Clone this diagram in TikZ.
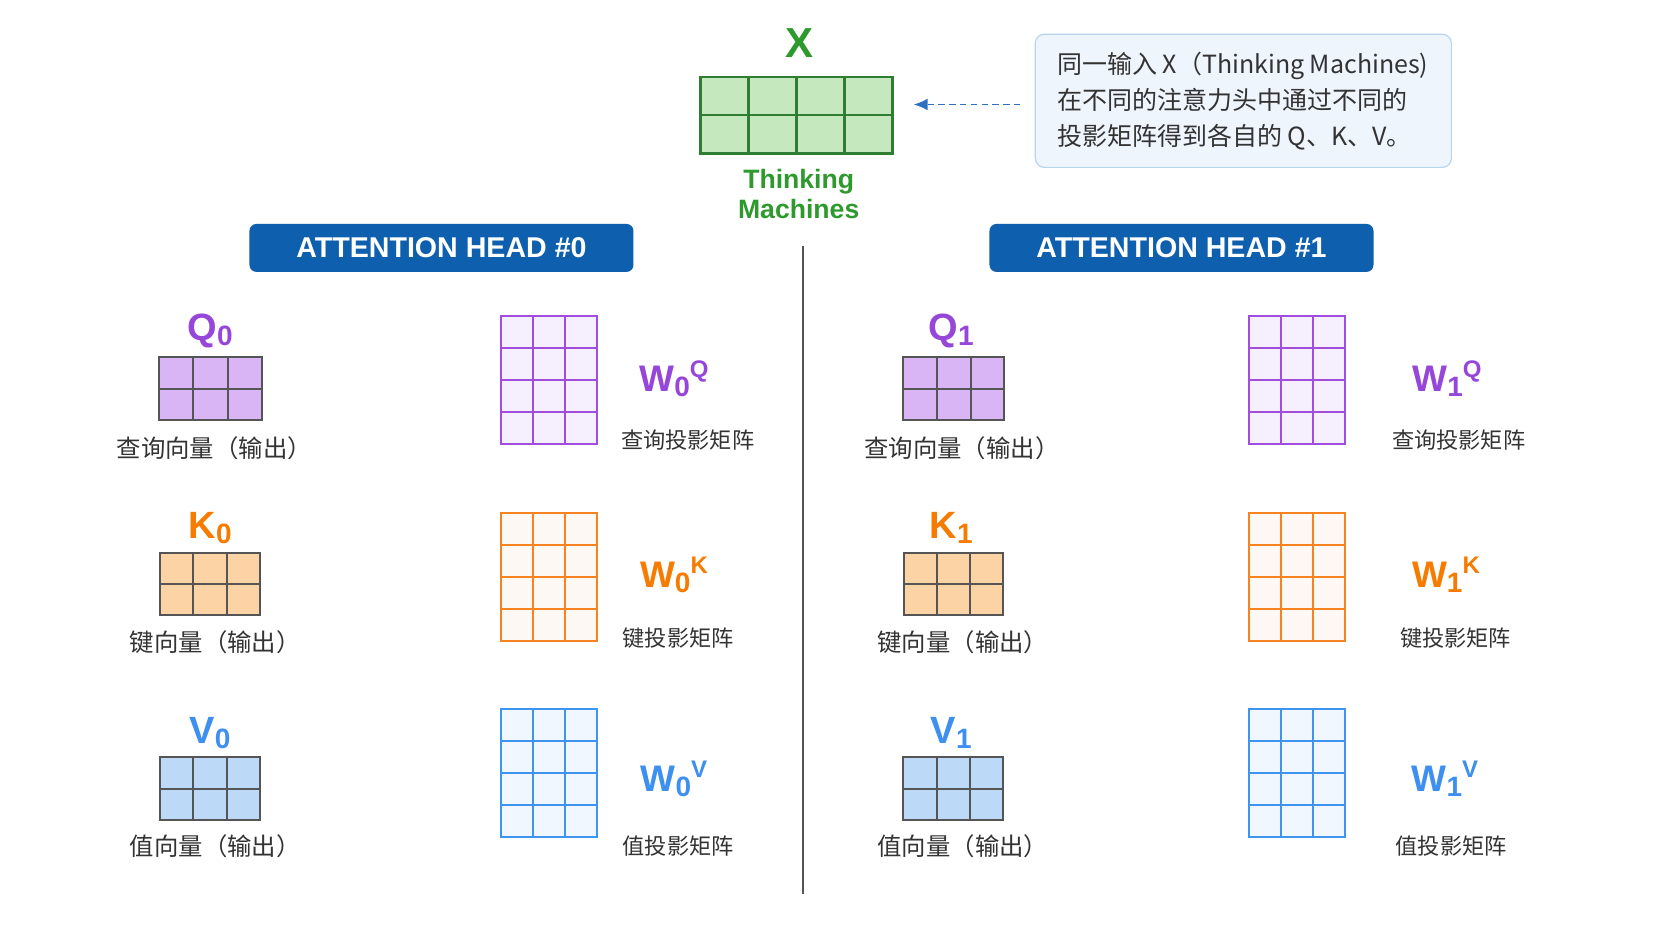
\documentclass[tikz,border=0pt]{standalone}
\usepackage{fontspec}
\setmainfont{Liberation Sans}
\newfontfamily\cjkf{Noto Sans CJK SC}
\usetikzlibrary{calc,arrows.meta}
\definecolor{qcol}{HTML}{9646D8}
\definecolor{kcol}{HTML}{F57C00}
\definecolor{vcol}{HTML}{3D8FF0}
\definecolor{gcol}{HTML}{2E9A2E}
\definecolor{gline}{HTML}{2E7D32}
\definecolor{gfill}{HTML}{C6E8BF}
\definecolor{qfill}{HTML}{D9B5F5}
\definecolor{kfill}{HTML}{FBD3A4}
\definecolor{vfill}{HTML}{BCDAF7}
\definecolor{qline}{HTML}{A04DE0}
\definecolor{kline}{HTML}{F5831F}
\definecolor{vline}{HTML}{3D95F0}
\definecolor{qlight}{HTML}{F6EFFD}
\definecolor{klight}{HTML}{FDF8F3}
\definecolor{vlight}{HTML}{F1F7FE}
\definecolor{vecline}{HTML}{555555}
\definecolor{headblue}{HTML}{0E5FAD}
\definecolor{notefill}{HTML}{EEF5FD}
\definecolor{notedraw}{HTML}{B8D4EF}
\definecolor{arrblue}{HTML}{2D6FC0}
\definecolor{txt}{HTML}{333333}
\definecolor{divider}{HTML}{555555}

\newcommand\matgrid[8]{%
 \node[#8, inner sep=0pt, outer sep=0pt, minimum width={(#4-#2)*0.53316pt}, minimum height={(#5-#3)*0.53316pt}] (#1) at ({(#2+#4)/2},{(#3+#5)/2}) {};
 \pgfmathtruncatemacro\mgC{#6-1}%
 \pgfmathtruncatemacro\mgR{#7-1}%
 \foreach \i in {1,...,\mgC}{\draw[#8,fill=none] ($(#1.north west)!{\i/#6}!(#1.north east)$) -- ($(#1.south west)!{\i/#6}!(#1.south east)$);}
 \foreach \j in {1,...,\mgR}{\draw[#8,fill=none] ($(#1.north west)!{\j/#7}!(#1.south west)$) -- ($(#1.north east)!{\j/#7}!(#1.south east)$);}
}
\newcommand\veclab[6]{%
 \node[anchor=base, text=#4, inner sep=0pt] (#1) at (#2,#3) {\fontsize{19}{19}\selectfont\bfseries #5\raisebox{-2.7pt}{\fontsize{14}{14}\selectfont #6}};
}
\newcommand\wlab[6]{%
 \node[anchor=base, text=#4, inner sep=0pt] (#1) at (#2,#3) {\fontsize{18.5}{18.5}\selectfont\bfseries W\raisebox{-2.7pt}{\fontsize{14}{14}\selectfont #5}\raisebox{7pt}{\fontsize{12}{12}\selectfont #6}};
}

\begin{document}
\begin{tikzpicture}[x=0.53316pt,y=-0.53316pt,
  xmat/.style={draw=gline, fill=gfill, line width=1.1pt},
  qvec/.style={draw=vecline, fill=qfill, line width=1pt},
  kvec/.style={draw=vecline, fill=kfill, line width=1pt},
  vvec/.style={draw=vecline, fill=vfill, line width=1pt},
  wqm/.style={draw=qline, fill=qlight, line width=1.1pt},
  wkm/.style={draw=kline, fill=klight, line width=1.1pt},
  wvm/.style={draw=vline, fill=vlight, line width=1.1pt},
  cjklab/.style={text=txt, inner sep=0pt, font=\cjkf\fontsize{12.2}{14}\selectfont},
  cjkmat/.style={text=txt, inner sep=0pt, font=\cjkf\fontsize{11.1}{13}\selectfont},
  headbox/.style={fill=headblue, rounded corners=3.5pt, inner sep=0pt, minimum width=192pt, minimum height=24pt, text=white, font=\bfseries\fontsize{14.3}{16}\selectfont},
  notebox/.style={fill=notefill, draw=notedraw, line width=0.6pt, rounded corners=4.5pt, minimum width=208pt, minimum height=66.6pt, inner sep=0pt},
  notearrow/.style={draw=arrblue, line width=0.9pt, dash pattern=on 3.2pt off 2.2pt, -{Latex[length=7pt,width=6pt]}},
]
\useasboundingbox[fill=white] (0,0) rectangle (1568,882);

% input X
\node[text=gcol, inner sep=0pt, font=\bfseries\fontsize{21}{21}\selectfont] (xlab) at (750,40) {X};
\matgrid{xmat}{657}{72}{837}{144}{4}{2}{xmat}
\node[text=gcol, align=center, inner sep=0pt, font=\bfseries\fontsize{13.3}{15}\selectfont] (xname) at (749,182) {Thinking\\Machines};

% note
\node[notebox] (note) at (1166,94.5) {};
\node[anchor=west, align=left, text=txt, inner sep=0pt, font=\cjkf\fontsize{12.5}{18.1}\selectfont] (notetxt) at (991,95) {同一输入 X（Thinking Machines)\\在不同的注意力头中通过不同的\\投影矩阵得到各自的 Q、K、V。};
\coordinate (arrS) at (957,98);
\draw[notearrow] (arrS) -- (xmat.east |- arrS) [shorten >=10.6pt];

% divider
\coordinate (divT) at (753,231);
\coordinate (divB) at (753,838);
\draw[divider, line width=0.9pt] (divT) -- (divB);

% headers
\node[headbox] (head0) at (414,232.5) {ATTENTION HEAD \#0};
\node[headbox] (head1) at (1108,232.5) {ATTENTION HEAD \#1};

% head 0
\veclab{q0lab}{197}{319}{qcol}{Q}{0}
\matgrid{qv0}{149}{335}{246}{394}{3}{2}{qvec}
\node[cjklab] (q0txt) at (201,420) {查询向量（输出）};
\veclab{k0lab}{197}{505}{kcol}{K}{0}
\matgrid{kv0}{150}{519}{244}{577}{3}{2}{kvec}
\node[cjklab] (k0txt) at (202,602) {键向量（输出）};
\veclab{v0lab}{197}{697}{vcol}{V}{0}
\matgrid{vv0}{150}{710}{244}{769}{3}{2}{vvec}
\node[cjklab] (v0txt) at (202,794) {值向量（输出）};

\matgrid{wq0}{470}{296}{560}{416}{3}{4}{wqm}
\wlab{wq0lab}{632}{367}{qcol}{0}{Q}
\node[cjkmat] (wq0txt) at (645,413) {查询投影矩阵};
\matgrid{wk0}{470}{481}{560}{601}{3}{4}{wkm}
\wlab{wk0lab}{632}{551}{kcol}{0}{K}
\node[cjkmat] (wk0txt) at (636,598) {键投影矩阵};
\matgrid{wv0}{470}{665}{560}{785}{3}{4}{wvm}
\wlab{wv0lab}{632}{742}{vcol}{0}{V}
\node[cjkmat] (wv0txt) at (636,793) {值投影矩阵};

% head 1
\veclab{q1lab}{892}{319}{qcol}{Q}{1}
\matgrid{qv1}{847}{335}{942}{394}{3}{2}{qvec}
\node[cjklab] (q1txt) at (902,420) {查询向量（输出）};
\veclab{k1lab}{892}{505}{kcol}{K}{1}
\matgrid{kv1}{848}{519}{941}{577}{3}{2}{kvec}
\node[cjklab] (k1txt) at (903,602) {键向量（输出）};
\veclab{v1lab}{892}{697}{vcol}{V}{1}
\matgrid{vv1}{847}{710}{941}{769}{3}{2}{vvec}
\node[cjklab] (v1txt) at (903,794) {值向量（输出）};

\matgrid{wq1}{1171}{296}{1261}{416}{3}{4}{wqm}
\wlab{wq1lab}{1357}{367}{qcol}{1}{Q}
\node[cjkmat] (wq1txt) at (1368,413) {查询投影矩阵};
\matgrid{wk1}{1171}{481}{1261}{601}{3}{4}{wkm}
\wlab{wk1lab}{1356}{551}{kcol}{1}{K}
\node[cjkmat] (wk1txt) at (1365,598) {键投影矩阵};
\matgrid{wv1}{1171}{665}{1261}{785}{3}{4}{wvm}
\wlab{wv1lab}{1355}{742}{vcol}{1}{V}
\node[cjkmat] (wv1txt) at (1361,793) {值投影矩阵};
\end{tikzpicture}
\end{document}
